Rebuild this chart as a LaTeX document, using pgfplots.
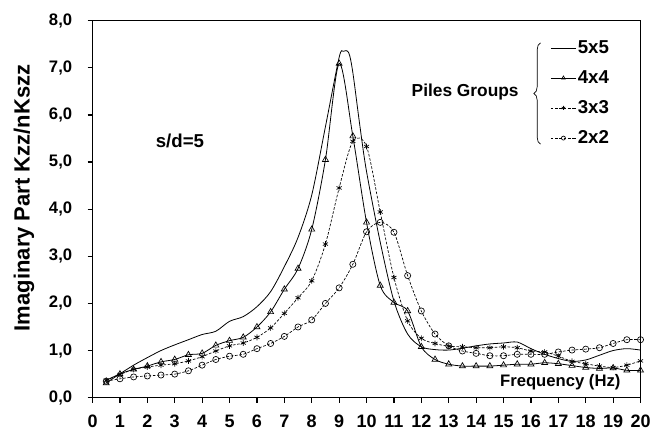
\documentclass[border=0pt]{standalone}
\usepackage{pgfplots}
\pgfplotsset{compat=1.18}
\usepackage{fontspec}
\setmainfont{Liberation Sans}
\usetikzlibrary{decorations.pathreplacing}

% 4x4, 3x3 and 2x2 groups (markers every 0.5 Hz)
\pgfplotstableread{
f     g44   g33   g22
0.5   0.31  0.37  0.35
1.0   0.50  0.49  0.40
1.5   0.60  0.60  0.44
2.0   0.67  0.65  0.46
2.5   0.76  0.69  0.48
3.0   0.81  0.72  0.50
3.5   0.91  0.78  0.57
4.0   0.94  0.87  0.69
4.5   1.11  0.99  0.81
5.0   1.21  1.10  0.88
5.5   1.28  1.16  0.92
6.0   1.50  1.28  1.04
6.5   1.82  1.48  1.15
7.0   2.30  1.79  1.30
7.5   2.74  2.12  1.50
8.0   3.57  2.48  1.65
8.5   5.05  3.26  2.00
9.0   7.09  4.45  2.33
9.5   5.55  5.44  2.83
10.0  3.72  5.33  3.52
10.5  2.38  3.94  3.72
11.0  2.02  2.55  3.51
11.5  1.84  1.63  2.59
12.0  1.08  1.26  1.84
12.5  0.81  1.15  1.35
13.0  0.71  1.09  1.10
13.5  0.67  1.08  0.99
14.0  0.67  1.06  0.94
14.5  0.67  1.06  0.89
15.0  0.69  1.08  0.89
15.5  0.71  1.06  0.92
16.0  0.71  0.99  0.92
16.5  0.74  0.97  0.92
17.0  0.72  0.88  0.97
17.5  0.68  0.77  1.01
18.0  0.64  0.72  1.03
18.5  0.62  0.67  1.06
19.0  0.63  0.64  1.15
19.5  0.58  0.69  1.23
20.0  0.58  0.78  1.23
}\groups

% 5x5 group (line only)
\pgfplotstableread{
f     g55
0.5   0.37
1.0   0.51
1.5   0.69
2.0   0.85
2.5   1.00
3.0   1.12
3.5   1.23
4.0   1.34
4.5   1.41
5.0   1.62
5.5   1.72
6.0   1.93
6.5   2.25
7.0   2.78
7.5   3.40
8.0   4.30
8.5   5.75
9.0   7.22
9.15  7.35
9.35  7.32
9.5   6.90
9.75  5.80
10.0  4.80
10.5  3.30
11.0  2.05
11.5  1.35
12.0  1.08
12.5  1.02
13.0  1.01
13.5  1.05
14.0  1.10
14.5  1.14
15.0  1.16
15.5  1.18
16.0  1.04
16.5  0.92
17.0  0.83
17.5  0.77
18.0  0.80
18.5  0.90
19.0  1.00
19.5  1.04
20.0  1.01
}\gfive

\begin{document}
\begin{tikzpicture}
\begin{axis}[
    scale only axis,
    width=411pt, height=282.75pt,
    xmin=0, xmax=20, ymin=0, ymax=8,
    xtick={0,1,...,20}, ytick={0,1,...,8},
    tick align=outside, tick pos=left,
    major tick length=3.75pt,
    tick style={black, line width=0.9pt},
    axis line style={line width=0.7pt},
    /pgf/number format/assume math mode=true,
    yticklabel style={font=\bfseries\fontsize{12.5}{13}\selectfont, xshift=-8pt,
        /pgf/number format/.cd, fixed, fixed zerofill, precision=1, use comma},
    xticklabel style={font=\bfseries\fontsize{13.5}{14}\selectfont, yshift=-6pt},
    ylabel={Imaginary Part Kzz/nKszz},
    ylabel style={font=\bfseries\fontsize{16.5}{17}\selectfont,
        at={(axis description cs:-0.125,0.53)}, anchor=center},
    xlabel={Frequency (Hz)},
    xlabel style={font=\bfseries\fontsize{12.5}{13}\selectfont,
        at={(axis description cs:0.972,0.04)}, anchor=east},
    legend style={draw=none, fill=none, at={(axis cs:16.7,7.61)},
        anchor=north west, font=\bfseries\fontsize{14}{15}\selectfont,
        row sep=9.3pt, inner sep=0pt, nodes={inner sep=1pt}},
    legend cell align=left,
    legend image code/.code={\draw[mark repeat=2,mark phase=2,#1,mark size=1.5pt]
        plot coordinates {(0pt,0pt) (9.5pt,0pt) (19pt,0pt)};},
]
\addplot[black, line width=0.6pt, smooth] table[x=f, y=g55] {\gfive};
\addlegendentry{5x5}
\addplot[black, line width=0.6pt, smooth, mark=triangle, mark size=2.6pt,
    mark options={solid, fill=white, line width=0.5pt}] table[x=f, y=g44] {\groups};
\addlegendentry{4x4}
\addplot[black, line width=0.5pt, smooth, dash pattern=on 2pt off 1.2pt,
    mark=asterisk, mark size=2.2pt, mark options={solid}] table[x=f, y=g33] {\groups};
\addlegendentry{3x3}
\addplot[black, line width=0.5pt, smooth, dash pattern=on 2pt off 1.2pt,
    mark=o, mark size=2.3pt, mark options={solid, fill=white}] table[x=f, y=g22] {\groups};
\addlegendentry{2x2}

\draw[line width=1.4pt] (rel axis cs:0,1) -- (rel axis cs:0,0) -- (rel axis cs:1,0);
\node[font=\bfseries\fontsize{14}{15}\selectfont] at (axis cs:3.19,5.44) {s/d=5};
\node[font=\bfseries\fontsize{13}{14}\selectfont] at (axis cs:13.6,6.49) {Piles Groups};
\draw[line width=0.5pt, decorate, decoration={brace, amplitude=5pt}]
    (axis cs:16.35,5.38) -- (axis cs:16.35,7.53);
\end{axis}
\pgfresetboundingbox
\useasboundingbox (-69.4pt,-25pt) rectangle (425.6pt,298.25pt);
\end{tikzpicture}
\end{document}
